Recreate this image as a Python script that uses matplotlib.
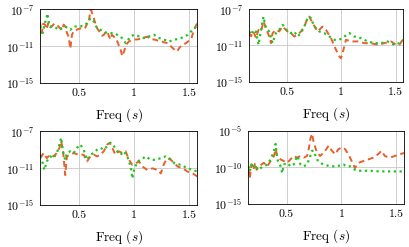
import numpy as np
import matplotlib
matplotlib.use("Agg")
import matplotlib.pyplot as plt

plt.rcParams["font.family"] = "serif"
plt.rcParams["font.serif"] = ["cmr10"]
plt.rcParams["mathtext.fontset"] = "cm"
plt.rcParams["axes.formatter.use_mathtext"] = True

ORANGE = "#e8602a"
GREEN = "#22c422"

# ===== data (freq, log10 of value) =====
tl_or_f = [0.15, 0.167, 0.18, 0.197, 0.21, 0.228, 0.245, 0.258, 0.28, 0.304, 0.325, 0.349, 0.365, 0.379,
           0.395, 0.41, 0.425, 0.44, 0.455, 0.47, 0.49, 0.516, 0.54, 0.561, 0.58, 0.591, 0.605, 0.613,
           0.625, 0.637, 0.652, 0.667, 0.685, 0.697, 0.712, 0.728, 0.745, 0.758, 0.775, 0.788, 0.80,
           0.819, 0.835, 0.849, 0.865, 0.879, 0.894, 0.91, 0.925, 0.94, 0.955, 0.98, 1.00, 1.03, 1.061,
           1.09, 1.122, 1.15, 1.182, 1.21, 1.243, 1.27, 1.304, 1.33, 1.364, 1.38, 1.394, 1.41, 1.425,
           1.45, 1.47, 1.49, 1.516, 1.53, 1.546, 1.56, 1.576]
tl_or_e = [-8.4, -9.6, -8.6, -8.7, -9.2, -8.5, -9.0, -8.9, -8.6, -8.7, -9.0, -9.3, -8.7, -8.9,
           -9.6, -10.0, -11.3, -9.8, -9.4, -9.4, -9.2, -9.1, -9.2, -9.0, -8.5, -8.5, -7.2, -7.1,
           -7.6, -8.0, -8.6, -9.1, -9.4, -9.6, -9.9, -9.8, -9.5, -9.4, -10.0, -10.3, -9.8,
           -10.0, -10.4, -10.5, -11.0, -11.4, -12.1, -11.6, -11.0, -10.7, -10.5, -10.4, -10.3, -10.3, -10.2,
           -10.1, -10.0, -10.3, -10.3, -10.4, -10.5, -10.6, -10.7, -11.0, -11.4, -11.6, -11.5, -11.2, -11.0,
           -10.8, -10.7, -10.5, -10.3, -9.7, -9.2, -8.8, -8.4]
tl_gr_f = [0.152, 0.167, 0.176, 0.197, 0.219, 0.237, 0.258, 0.288, 0.319, 0.349, 0.379, 0.425, 0.455,
           0.5, 0.546, 0.576, 0.607, 0.637, 0.667, 0.697, 0.728, 0.758, 0.819, 0.879, 0.925, 0.97,
           1.0, 1.046, 1.091, 1.137, 1.182, 1.228, 1.273, 1.318, 1.364, 1.425, 1.485, 1.53, 1.576]
tl_gr_e = [-8.9, -9.4, -9.6, -8.5, -7.5, -8.9, -8.9, -8.97, -9.26, -9.08, -8.9, -9.26, -8.9,
           -8.9, -8.83, -8.54, -8.0, -8.36, -9.08, -9.26, -9.44, -9.62, -9.62, -9.97, -10.69, -9.97,
           -9.8, -9.97, -10.15, -9.97, -9.8, -10.15, -10.33, -10.51, -10.33, -10.15, -9.8, -9.26, -8.72]

tr_or_f = [0.153, 0.169, 0.193, 0.215, 0.239, 0.261, 0.285, 0.307, 0.337, 0.353, 0.368, 0.399, 0.429,
           0.46, 0.475, 0.506, 0.537, 0.567, 0.598, 0.629, 0.66, 0.69, 0.706, 0.736, 0.782, 0.828,
           0.859, 0.905, 0.951, 0.982, 0.997, 1.012, 1.043, 1.089, 1.15, 1.212, 1.273, 1.334, 1.396,
           1.457, 1.503, 1.534, 1.564, 1.574]
tr_or_e = [-9.65, -10.0, -9.47, -10.2, -9.29, -9.47, -8.38, -9.11, -10.02, -10.75, -9.65, -9.29, -9.47,
           -8.93, -9.11, -9.47, -9.65, -10.02, -9.84, -9.47, -8.93, -8.02, -7.84, -8.56, -9.47, -8.93,
           -9.29, -10.2, -11.47, -12.2, -12.4, -11.84, -10.38, -10.56, -10.56, -10.75, -10.75, -10.93, -10.75,
           -10.56, -10.93, -10.93, -10.4, -10.2]
tr_gr_f = [0.153, 0.169, 0.193, 0.215, 0.239, 0.261, 0.285, 0.307, 0.337, 0.368, 0.399, 0.429, 0.46,
           0.475, 0.506, 0.537, 0.567, 0.598, 0.629, 0.66, 0.696, 0.721, 0.752, 0.798, 0.844, 0.89,
           0.936, 0.982, 1.028, 1.074, 1.12, 1.181, 1.242, 1.304, 1.365, 1.426, 1.488, 1.534, 1.574]
tr_gr_e = [-9.47, -9.84, -9.29, -9.47, -10.93, -9.29, -7.84, -9.11, -9.47, -10.75, -9.65, -9.29, -8.75,
           -8.93, -9.47, -9.65, -9.47, -10.02, -9.65, -8.93, -7.84, -8.02, -8.93, -9.47, -9.65, -10.02,
           -10.38, -10.38, -10.02, -9.65, -10.02, -10.2, -10.56, -10.75, -10.75, -10.56, -10.93, -10.75, -10.38]

bl_or_f = [0.152, 0.167, 0.182, 0.212, 0.242, 0.273, 0.303, 0.327, 0.342, 0.358, 0.379, 0.394, 0.424,
           0.455, 0.5, 0.545, 0.576, 0.606, 0.636, 0.667, 0.697, 0.727, 0.758, 0.782, 0.803, 0.833,
           0.864, 0.894, 0.924, 0.955, 0.985, 1.015, 1.045, 1.076, 1.121, 1.167, 1.212, 1.242, 1.273,
           1.303, 1.333, 1.364, 1.394, 1.439, 1.485, 1.53, 1.576]
bl_or_e = [-9.57, -9.75, -9.39, -9.94, -9.57, -9.75, -9.39, -8.83, -8.1, -9.02, -11.77, -9.75, -9.57,
           -9.39, -9.57, -9.57, -10.3, -9.75, -9.57, -9.75, -9.57, -9.2, -8.47, -8.28, -8.83, -9.57,
           -9.2, -9.39, -9.2, -10.12, -10.67, -10.49, -10.3, -10.85, -11.22, -11.04, -11.22, -11.59, -10.49,
           -9.94, -10.12, -10.49, -10.85, -11.04, -11.4, -11.59, -11.95]
bl_gr_f = [0.152, 0.176, 0.191, 0.212, 0.242, 0.273, 0.303, 0.327, 0.342, 0.358, 0.379, 0.394, 0.424,
           0.455, 0.485, 0.515, 0.545, 0.576, 0.606, 0.636, 0.667, 0.697, 0.727, 0.758, 0.788, 0.818,
           0.848, 0.879, 0.909, 0.939, 0.97, 0.985, 1.0, 1.03, 1.061, 1.106, 1.152, 1.197, 1.242,
           1.288, 1.318, 1.364, 1.424, 1.485, 1.53, 1.576]
bl_gr_e = [-9.75, -10.49, -11.22, -10.3, -9.75, -9.94, -9.39, -8.47, -7.73, -9.2, -10.12, -9.39, -9.2,
           -9.39, -8.83, -8.47, -9.02, -10.12, -9.57, -9.39, -9.02, -8.83, -9.02, -8.65, -8.28, -8.65,
           -9.2, -9.57, -9.2, -9.75, -10.85, -12.14, -11.22, -10.3, -10.12, -9.75, -10.12, -10.12, -9.94,
           -9.75, -9.94, -10.49, -10.67, -11.04, -11.22, -11.4]

br_or_f = [0.154, 0.166, 0.181, 0.199, 0.214, 0.229, 0.25, 0.271, 0.295, 0.325, 0.355, 0.386, 0.401,
           0.416, 0.446, 0.476, 0.506, 0.536, 0.566, 0.596, 0.627, 0.657, 0.687, 0.702, 0.717, 0.732,
           0.747, 0.777, 0.807, 0.852, 0.883, 0.913, 0.943, 0.973, 1.003, 1.033, 1.063, 1.093, 1.123,
           1.154, 1.199, 1.244, 1.289, 1.334, 1.364, 1.395, 1.44, 1.485, 1.53, 1.575]
br_or_e = [-10.3, -11.5, -9.6, -10.31, -9.37, -10.31, -9.84, -9.6, -9.37, -9.84, -9.13, -8.43, -7.49,
           -8.43, -8.9, -9.13, -9.37, -8.9, -8.43, -8.66, -8.43, -8.66, -8.43, -7.49, -6.08, -5.38,
           -6.55, -7.96, -8.43, -7.72, -7.02, -7.72, -8.19, -7.49, -7.25, -7.49, -8.19, -9.13, -10.07,
           -9.37, -9.13, -8.9, -8.66, -8.19, -7.72, -8.43, -8.66, -8.43, -8.19, -8.0]
br_gr_f = [0.154, 0.166, 0.181, 0.199, 0.214, 0.235, 0.265, 0.295, 0.325, 0.355, 0.386, 0.401, 0.416,
           0.446, 0.461, 0.476, 0.506, 0.536, 0.566, 0.596, 0.611, 0.627, 0.657, 0.687, 0.711, 0.732,
           0.747, 0.777, 0.807, 0.837, 0.898, 0.958, 1.018, 1.048, 1.078, 1.123, 1.169, 1.259, 1.349,
           1.44, 1.53, 1.575]
br_gr_e = [-9.84, -10.54, -9.6, -10.07, -9.6, -10.31, -10.07, -9.84, -9.6, -8.9, -7.72, -6.78, -8.9,
           -9.84, -10.77, -9.6, -9.37, -9.84, -9.6, -8.43, -8.9, -9.6, -9.84, -9.6, -8.66, -7.72,
           -7.72, -8.9, -9.37, -9.6, -9.84, -9.84, -9.6, -9.84, -9.84, -10.31, -10.45, -10.45, -10.54,
           -10.54, -10.54, -10.54]

PANELS = [
    # (rect, orange f, orange e, green f, green e, yticks exponents)
    ([0.098, 0.664, 0.384, 0.300], tl_or_f, tl_or_e, tl_gr_f, tl_gr_e, [-15, -11, -7]),
    ([0.609, 0.668, 0.377, 0.296], tr_or_f, tr_or_e, tr_gr_f, tr_gr_e, [-15, -11, -7]),
    ([0.098, 0.170, 0.384, 0.300], bl_or_f, bl_or_e, bl_gr_f, bl_gr_e, [-15, -11, -7]),
    ([0.607, 0.174, 0.381, 0.296], br_or_f, br_or_e, br_gr_f, br_gr_e, [-15, -10, -5]),
]

fig = plt.figure(figsize=(4.09, 2.47), dpi=100)
for rect, of, oe, gf, ge, yt in PANELS:
    ax = fig.add_axes(rect)
    ax.plot(of, 10.0 ** np.array(oe), color=ORANGE, lw=1.4, linestyle=(0, (3, 2)))
    ax.plot(gf, 10.0 ** np.array(ge), color=GREEN, lw=1.6, linestyle=(0, (1, 1.6)))
    ax.set_yscale("log")
    ax.set_ylim(10.0 ** yt[0], 10.0 ** yt[-1])
    ax.set_yticks([10.0 ** e for e in yt])
    ax.set_yticklabels([r"$10^{%d}$" % e for e in yt])
    ax.minorticks_off()
    ax.set_xlim(0.152, 1.57)
    ax.set_xticks([0.5, 1.0, 1.5])
    ax.set_xticklabels(["0.5", "1", "1.5"])
    ax.grid(True, color="#c8c8c8", lw=0.6)
    ax.set_axisbelow(True)
    ax.tick_params(length=0, labelsize=8.5, pad=4)
    for s in ax.spines.values():
        s.set_linewidth(0.6)
    ax.set_xlabel(r"Freq ($s$)", fontsize=9.5, labelpad=6)

fig.savefig("out.png", dpi=100)
